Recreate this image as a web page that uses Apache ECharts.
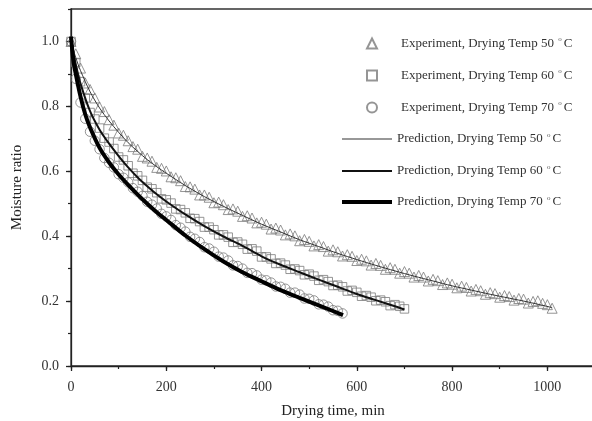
<!DOCTYPE html>
<html>
<head>
<meta charset="utf-8">
<script src="https://cdn.jsdelivr.net/npm/echarts@6/dist/echarts.min.js"></script>
<style>html,body{margin:0;padding:0;background:#fff}#c{width:592px;height:421px}</style>
</head>
<body>
<div id="c"></div>
<script>
// ---- data ----
const xTicks = [0, 200, 400, 600, 800, 1000];
const yTicks = [0.0, 0.2, 0.4, 0.6, 0.8, 1.0];

// experiment sampling times (min)
const expTimes = [0,10,20,30,40,50,60,70,80,90,100,110,120,130,140,150,160,170,180,190,200,210,220,230,240,250,260,270,280,290,300,310,320,330,340,350,360,370,380,390,400,410,420,430,440,450,460,470,480,490,500,510,520,530,540,550,560,570,580,590,600,610,620,630,640,650,660,670,680,690,700,710,720,730,740,750,760,770,780,790,800,810,820,830,840,850,860,870,880,890,900,910,920,930,940,950,960,970,980,990,1000,1010];

const exp50 = [1.00,0.962,0.918,0.872,0.852,0.826,0.798,0.784,0.759,0.742,0.718,0.711,0.694,0.676,0.668,0.646,0.641,0.631,0.612,0.609,0.601,0.583,0.580,0.571,0.553,0.552,0.545,0.527,0.527,0.520,0.503,0.505,0.497,0.482,0.484,0.477,0.461,0.463,0.456,0.441,0.443,0.437,0.422,0.425,0.419,0.404,0.407,0.401,0.386,0.390,0.384,0.370,0.374,0.368,0.354,0.358,0.352,0.339,0.343,0.338,0.325,0.329,0.324,0.311,0.316,0.310,0.298,0.303,0.298,0.286,0.291,0.286,0.274,0.279,0.274,0.262,0.267,0.263,0.251,0.256,0.252,0.241,0.246,0.242,0.231,0.236,0.232,0.221,0.226,0.223,0.212,0.217,0.214,0.203,0.208,0.206,0.194,0.199,0.201,0.193,0.189,0.178];

const exp60 = [1.00,0.935,0.876,0.826,0.781,0.761,0.733,0.702,0.690,0.670,0.644,0.635,0.617,0.594,0.586,0.572,0.551,0.546,0.534,0.515,0.512,0.502,0.484,0.482,0.472,0.455,0.454,0.445,0.428,0.428,0.420,0.404,0.404,0.397,0.381,0.382,0.375,0.360,0.361,0.354,0.336,0.336,0.330,0.316,0.317,0.311,0.298,0.299,0.294,0.281,0.283,0.277,0.264,0.266,0.260,0.248,0.249,0.244,0.231,0.233,0.227,0.215,0.217,0.212,0.201,0.203,0.198,0.186,0.189,0.184,0.176];

const exp70 = [1.00,0.885,0.812,0.762,0.722,0.694,0.668,0.641,0.626,0.612,0.591,0.580,0.566,0.548,0.537,0.524,0.506,0.497,0.485,0.469,0.461,0.450,0.434,0.426,0.414,0.398,0.392,0.382,0.366,0.362,0.352,0.337,0.334,0.325,0.310,0.308,0.300,0.287,0.286,0.279,0.266,0.264,0.257,0.245,0.244,0.238,0.226,0.226,0.220,0.208,0.207,0.202,0.190,0.189,0.183,0.172,0.170,0.162];

// prediction curves: [time, MR]
const pred50 = [[0,1.015],[5,0.975],[10,0.95],[20,0.91],[40,0.845],[60,0.795],[80,0.755],[100,0.72],[120,0.688],[140,0.661],[160,0.636],[180,0.614],[200,0.594],[240,0.556],[280,0.522],[320,0.492],[360,0.464],[400,0.437],[440,0.413],[480,0.389],[520,0.368],[560,0.347],[600,0.328],[640,0.310],[680,0.293],[720,0.277],[760,0.262],[800,0.247],[840,0.234],[880,0.221],[920,0.209],[960,0.197],[1010,0.180]];
const pred60 = [[0,1.015],[5,0.965],[10,0.93],[20,0.87],[40,0.785],[60,0.728],[80,0.685],[100,0.647],[120,0.612],[140,0.581],[160,0.554],[180,0.529],[200,0.507],[240,0.467],[280,0.431],[320,0.399],[360,0.370],[400,0.338],[440,0.312],[480,0.289],[520,0.266],[560,0.244],[600,0.222],[640,0.203],[680,0.184],[700,0.174]];
const pred70 = [[0,1.015],[5,0.94],[10,0.90],[20,0.83],[30,0.775],[40,0.735],[60,0.672],[80,0.627],[100,0.590],[120,0.558],[140,0.528],[160,0.500],[180,0.474],[200,0.450],[240,0.402],[280,0.360],[320,0.322],[360,0.289],[400,0.261],[440,0.234],[480,0.210],[520,0.187],[571,0.157]];

const expNames = ['Experiment, Drying Temp 50 °C','Experiment, Drying Temp 60 °C','Experiment, Drying Temp 70 °C'];
const predNames = ['Prediction, Drying Temp 50 °C','Prediction, Drying Temp 60 °C','Prediction, Drying Temp 70 °C'];

// ---- chart ----
const FONT = '"Liberation Serif","Times New Roman",serif';
const zip = vals => vals.map((v, i) => [expTimes[i], v]);
const markerStyle = {color: 'rgba(255,255,255,0)', borderColor: '#7a7a7a', borderWidth: 1};
const richBase = {
  a: {fontFamily: FONT, fontSize: 13, color: '#333', lineHeight: 15},
  s: {fontFamily: FONT, fontSize: 7, color: '#555', verticalAlign: 'top', lineHeight: 15, padding: [0, 2, 0, 1]},
  p: {width: 19, fontSize: 13, lineHeight: 15}
};
const legendText = {fontFamily: FONT, fontSize: 13, color: '#333', rich: richBase};
const fmtExp = n => '{p| }{a|' + n.replace(' °C', ' ') + '}{s|o}{a|C}';
const fmtPred = n => '{a|' + n.replace(' °C', ' ') + '}{s|o}{a|C}';

const predLegend = (i, top, h) => ({
  data: [{name: predNames[i], icon: 'rect'}], orient: 'vertical', left: 342, top: top, padding: 0,
  itemWidth: 50, itemHeight: h, formatter: fmtPred, textStyle: legendText, selectedMode: false
});

const chart = echarts.init(document.getElementById('c'), null, {renderer: 'canvas'});
const axisLineStyle = {color: '#222', width: 1.3};
chart.setOption({
  animation: false,
  backgroundColor: '#fff',
  grid: {left: 71, top: 9, width: 524, height: 357, outerBoundsMode: 'none', containLabel: false,
         show: true, borderColor: '#333', borderWidth: 1.3, backgroundColor: 'transparent'},
  legend: [
    {data: expNames.map((n, i) => ({name: n, icon: ['triangle', 'rect', 'circle'][i]})),
     orient: 'vertical', left: 366, top: 36, padding: 0, itemWidth: 10, itemHeight: 10, itemGap: 18,
     formatter: fmtExp, textStyle: legendText, selectedMode: false},
    predLegend(0, 131.5, 1),
    predLegend(1, 163.5, 2),
    predLegend(2, 194.5, 4)
  ],
  xAxis: [
    {type: 'value', min: 0, max: 1100, interval: 200, position: 'bottom',
     name: 'Drying time, min', nameLocation: 'middle', nameGap: 38,
     nameTextStyle: {fontFamily: FONT, fontSize: 15, color: '#222'},
     axisLine: {show: true, onZero: false, lineStyle: axisLineStyle},
     axisTick: {show: true, length: 5, lineStyle: {color: '#222', width: 1.3}},
     axisLabel: {margin: 14, fontFamily: FONT, fontSize: 14, color: '#333',
       formatter: v => xTicks.includes(v) ? String(v) : ''},
     splitLine: {show: false}},
    {type: 'value', min: 0, max: 1100, interval: 100, position: 'bottom',
     axisLine: {show: false}, axisLabel: {show: false}, splitLine: {show: false},
     axisTick: {show: true, length: 3, lineStyle: {color: '#222', width: 1.2}}}
  ],
  yAxis: [
    {type: 'value', min: 0, max: 1.1, interval: 0.2, position: 'left',
     name: 'Moisture ratio', nameLocation: 'middle', nameGap: 46,
     nameTextStyle: {fontFamily: FONT, fontSize: 15, color: '#222'},
     axisLine: {show: true, onZero: false, lineStyle: axisLineStyle},
     axisTick: {show: true, length: 5, lineStyle: {color: '#222', width: 1.3}},
     axisLabel: {margin: 12, fontFamily: FONT, fontSize: 14, color: '#333', showMaxLabel: false,
       formatter: v => yTicks.some(t => Math.abs(t - v) < 1e-6) ? v.toFixed(1) : ''},
     splitLine: {show: false}},
    {type: 'value', min: 0, max: 1.1, interval: 0.1, position: 'left',
     axisLine: {show: false}, axisLabel: {show: false}, splitLine: {show: false},
     axisTick: {show: true, length: 3, lineStyle: {color: '#222', width: 1.2}}}
  ],
  series: [
    {name: expNames[0], type: 'scatter', data: zip(exp50), symbol: 'triangle', symbolSize: 10, itemStyle: markerStyle, z: 2},
    {name: expNames[1], type: 'scatter', data: zip(exp60), symbol: 'rect', symbolSize: 8.5, itemStyle: markerStyle, z: 2},
    {name: expNames[2], type: 'scatter', data: zip(exp70), symbol: 'circle', symbolSize: 9.5, itemStyle: markerStyle, z: 2},
    {name: predNames[0], type: 'line', data: pred50, smooth: 0.3, symbol: 'none', lineStyle: {color: '#333', width: 1}, itemStyle: {color: '#333'}, z: 3},
    {name: predNames[1], type: 'line', data: pred60, smooth: 0.3, symbol: 'none', lineStyle: {color: '#111', width: 2}, itemStyle: {color: '#111'}, z: 3},
    {name: predNames[2], type: 'line', data: pred70, smooth: 0.3, symbol: 'none', lineStyle: {color: '#000', width: 4}, itemStyle: {color: '#000'}, z: 3}
  ]
});
</script>
</body>
</html>
